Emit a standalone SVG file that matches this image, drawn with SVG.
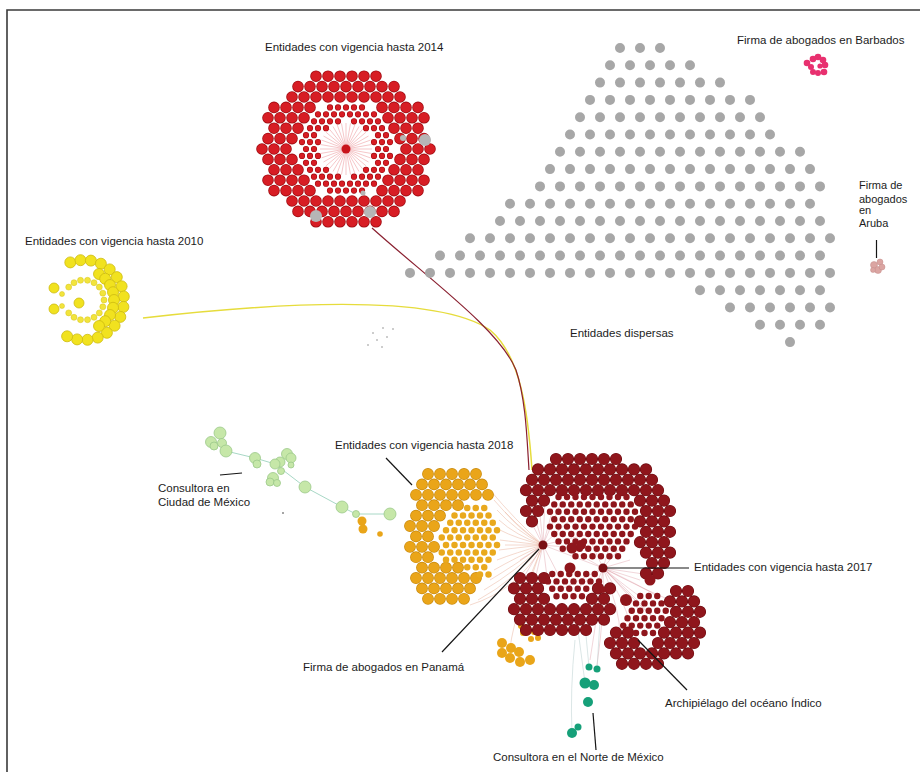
<svg xmlns="http://www.w3.org/2000/svg" xmlns:xlink="http://www.w3.org/1999/xlink" width="920" height="772" viewBox="0 0 920 772">
<style>
.lbl{font-family:"Liberation Sans",Arial,sans-serif;font-size:11.5px;fill:#1c1c1c}
.ld{stroke:#151515;stroke-width:1.2;fill:none}
.row{fill:none;stroke-linecap:round}
.r14d{stroke:#a10c12;stroke-width:11.6;stroke-dasharray:0 12}
.r14l{stroke:#d71d24;stroke-width:10;stroke-dasharray:0 12}
.r14sd{stroke:#a10c12;stroke-width:6.2;stroke-dasharray:0 8}
.r14sl{stroke:#d71d24;stroke-width:5;stroke-dasharray:0 8}
.gy{stroke:#a7a7a7;stroke-width:10;stroke-dasharray:0 20}
.m17d{stroke:#6e0d12;stroke-width:12.2;stroke-dasharray:0 12}
.m17l{stroke:#8f161c;stroke-width:11;stroke-dasharray:0 12}
.m17s{stroke:#8f161c;stroke-width:6.4;stroke-dasharray:0 8.5}
.o18d{stroke:#c98a0c;stroke-width:11.8;stroke-dasharray:0 12}
.o18l{stroke:#eaa519;stroke-width:10.4;stroke-dasharray:0 12}
.o18s{stroke:#e9a91d;stroke-width:6.5;stroke-dasharray:0 8.5}
.yb{fill:#f1e21f;stroke:#cdbb10;stroke-width:.8}
.ys{fill:#f2e43c;stroke:#d6c51a;stroke-width:.5}
.gr{fill:#c6e7a8;stroke:#9cc98a;stroke-width:.8}
.tl{fill:#16a079}
.pk{fill:#e8306f}
.ar{fill:#dba5a2;stroke:#c48c8a;stroke-width:.5}
.gd{fill:#b6b6b6}
.fanO{stroke:#eab49e;stroke-width:.6;fill:none;opacity:.85}
.fanM{stroke:#c75a6a;stroke-width:.5;fill:none;opacity:.5}
</style>
<defs>
<path id="r14b" d="M316,76.2h60.5M298,86.6h96.5M292,97h108.5M274,107.4h36.5M382,107.4h36.5M268,117.8h36.5M388,117.8h36.5M274,128.2h24.5M394,128.2h24.5M268,138.6h24.5M400,138.6h24.5M262,149h24.5M406,149h24.5M268,159.4h24.5M400,159.4h24.5M274,169.8h24.5M394,169.8h24.5M268,180.2h36.5M388,180.2h36.5M274,190.6h36.5M382,190.6h36.5M292,201h108.5M298,211.4h96.5M316,221.8h60.5"/>
<path id="r14s" d="M330,107.4h32.5M318,114.35h56.5M314,121.28h24.5M354,121.28h24.5M310,128.21h16.5M366,128.21h16.5M306,135.14h8.5M378,135.14h8.5M302,142.07h16.5M374,142.07h16.5M306,149h8.5M378,149h8.5M302,155.93h16.5M374,155.93h16.5M306,162.86h8.5M378,162.86h8.5M310,169.79h16.5M366,169.79h16.5M314,176.72h24.5M354,176.72h24.5M318,183.65h56.5M330,190.58h32.5"/>
<path id="m17b" d="M556,459h60.5M538,469.4h108.5M532,479.8h120.5M526,490.2h132.5M532,500.6h12.5M640,500.6h24.5M526,511h12.5M646,511h24.5M532,521.4h0.5M640,521.4h24.5M646,531.8h24.5M640,542.2h24.5M646,552.6h24.5M652,563h12.5M646,573.4h12.5M520,578h24.5M514,588.4h24.5M598,588.4h12.5M520,598.8h24.5M592,598.8h12.5M514,609.2h96.5M520,619.6h84.5M526,630h60.5M676,591h12.5M670,601.4h24.5M676,611.8h24.5M670,622.2h24.5M616,632.6h12.5M664,632.6h36.5M610,643h24.5M658,643h36.5M616,653.4h72.5M622,663.8h36.5"/>
<path id="o18b" d="M428,474h48.5M422,484.4h60.5M416,494.8h72.5M422,505.2h36.5M416,515.6h24.5M410,526h24.5M416,536.4h12.5M410,546.8h24.5M416,557.2h12.5M422,567.6h36.5M416,578h60.5M422,588.4h48.5M428,598.8h36.5"/>
</defs>
<rect width="920" height="772" fill="#ffffff"/>
<path d="M7,772V10H920" fill="none" stroke="#3a3a3a" stroke-width="1.6"/>

<g id="connectors">
<path d="M143,318C300,300 440,296 490,330C520,355 528,410 532,470" fill="none" stroke="#e6dc3c" stroke-width="1.5"/>
<path d="M372,228C430,280 500,330 516,370C526,400 527,440 529,470" fill="none" stroke="#8a2030" stroke-width="1.2"/>
<path d="M226,451L255,458L275,464L305,487L342,507L356,514L390,514" fill="none" stroke="#a8d8c6" stroke-width="1"/>
<path class="fanO" d="M543,545Q515,520 490,490M543,545Q515,525 494,500M543,545Q515,530 497,510M543,545Q515,535 499,520M543,545Q515,538 500,530M543,545Q515,542 500,540M543,545Q515,548 499,550M543,545Q515,553 497,560M543,545Q515,558 494,570M543,545Q515,565 490,580M543,545Q515,572 484,590M543,545Q515,580 478,600M543,545Q520,600 530,630M543,545Q515,610 510,648M543,545Q518,590 470,605M543,545Q520,530 505,512M543,545Q522,545 505,545"/>
<path class="fanM" d="M543,545L530,520M543,545L540,515M543,545L552,512M543,545L560,505M543,545L570,520M543,545L585,535M543,545L525,575M543,545L535,580M543,545L548,585M543,545L560,578M543,545L575,548M543,545L603,568M543,545L520,560M543,545L530,500M543,545L545,498"/>
<path class="fanM" d="M603,568Q630,590 645,600M603,568Q630,595 640,612M603,568Q625,600 630,625M603,568Q640,585 660,598M603,568Q645,590 670,600M603,568Q635,600 655,620M603,568Q620,610 620,635M603,568Q640,600 668,635M603,568L590,540M603,568L610,545M603,568L620,548M603,568L630,560M603,568L580,555M603,568L575,590M603,568L590,600M603,568Q598,610 590,660M603,568Q605,610 597,665M603,568L640,580M603,568L650,575M603,568L560,590"/>
<path d="M589,667L585,625M585,683L578,630M572,733Q570,690 575,640M597,669L600,620" fill="none" stroke="#b6cccc" stroke-width=".5"/>
</g>

<g id="cluster-2014">
<g transform="translate(346,149)"><path d="M0,0L26,0M0,0L25.6,4.5M0,0L24.4,8.9M0,0L22.5,13M0,0L19.9,16.7M0,0L16.7,19.9M0,0L13,22.5M0,0L8.9,24.4M0,0L4.5,25.6M0,0L0,26M0,0L-4.5,25.6M0,0L-8.9,24.4M0,0L-13,22.5M0,0L-16.7,19.9M0,0L-19.9,16.7M0,0L-22.5,13M0,0L-24.4,8.9M0,0L-25.6,4.5M0,0L-26,0M0,0L-25.6,-4.5M0,0L-24.4,-8.9M0,0L-22.5,-13M0,0L-19.9,-16.7M0,0L-16.7,-19.9M0,0L-13,-22.5M0,0L-8.9,-24.4M0,0L-4.5,-25.6M0,0L0,-26M0,0L4.5,-25.6M0,0L8.9,-24.4M0,0L13,-22.5M0,0L16.7,-19.9M0,0L19.9,-16.7M0,0L22.5,-13M0,0L24.4,-8.9M0,0L25.6,-4.5" stroke="#eb8e92" stroke-width=".5" fill="none"/></g>
<use href="#r14b" class="row r14d"/>
<use href="#r14b" class="row r14l"/>
<use href="#r14s" class="row r14sd"/>
<use href="#r14s" class="row r14sl"/>
<circle cx="346" cy="149" r="4.5" fill="#c8141b"/>
<circle class="gd" cx="425" cy="140" r="6"/><circle class="gd" cx="403" cy="138" r="3"/><circle class="gd" cx="370" cy="212" r="6"/><circle class="gd" cx="316" cy="216" r="6"/><circle class="gd" cx="363" cy="193" r="2.5"/>
<text class="lbl" x="265" y="51">Entidades con vigencia hasta 2014</text>
</g>

<g id="entidades-dispersas">
<path class="row gy" d="M620,48h40.5M610,65.3h80.5M600,82.6h120.5M590,99.9h160.5M580,117.2h180.5M570,134.5h200.5M560,151.8h240.5M550,169.1h260.5M540,186.4h280.5M510,203.7h300.5M500,221h320.5M470,238.3h360.5M440,255.6h380.5M410,272.9h420.5M700,290.2h120.5M730,307.5h100.5M760,324.8h60.5M790,342.1h0.5"/>
<g fill="#bdbdbd"><circle cx="383" cy="328" r="1"/><circle cx="393" cy="329" r="1"/><circle cx="373" cy="333" r="1"/><circle cx="387" cy="337" r="1"/><circle cx="377" cy="340" r="1"/><circle cx="368" cy="345" r="1"/><circle cx="382" cy="347" r="1"/></g>
<text class="lbl" x="570" y="337">Entidades dispersas</text>
</g>

<g id="firma-barbados">
<circle class="pk" cx="807" cy="63" r="3.3"/><circle class="pk" cx="813" cy="59" r="3.3"/><circle class="pk" cx="818" cy="57" r="3.3"/><circle class="pk" cx="823" cy="60" r="3.3"/><circle class="pk" cx="825" cy="65" r="3.3"/><circle class="pk" cx="824" cy="72" r="3.3"/><circle class="pk" cx="818" cy="73" r="3"/><circle class="pk" cx="820" cy="66" r="2.6"/><circle class="pk" cx="813" cy="72" r="3"/><circle class="pk" cx="811" cy="67" r="3"/>
<text class="lbl" x="737" y="44">Firma de abogados en Barbados</text>
</g>

<g id="firma-aruba">
<text class="lbl" style="font-size:11px" x="859" y="189">Firma de</text>
<text class="lbl" style="font-size:11px" x="859" y="203">abogados</text>
<text class="lbl" style="font-size:11px" x="859" y="214">en</text>
<text class="lbl" style="font-size:11px" x="859" y="227">Aruba</text>
<path class="ld" d="M876.5,240V258" stroke-width="1"/>
<circle class="ar" cx="874" cy="265" r="3.5"/><circle class="ar" cx="880" cy="262" r="3"/><circle class="ar" cx="878" cy="270" r="3.5"/><circle class="ar" cx="882" cy="267" r="3"/><circle class="ar" cx="873" cy="270" r="2.5"/>
</g>

<g id="cluster-2010">
<circle class="yb" cx="70.3" cy="262.4" r="5.5"/><circle class="yb" cx="80.5" cy="260.2" r="5.5"/><circle class="yb" cx="90.9" cy="260.6" r="5.5"/><circle class="yb" cx="100.9" cy="263.7" r="5.5"/><circle class="yb" cx="109.7" cy="269.4" r="5.5"/><circle class="yb" cx="116.8" cy="277.1" r="5.5"/><circle class="yb" cx="121.6" cy="286.3" r="5.5"/><circle class="yb" cx="123.8" cy="296.5" r="5.5"/><circle class="yb" cx="123.4" cy="306.9" r="5.5"/><circle class="yb" cx="120.3" cy="316.9" r="5.5"/><circle class="yb" cx="114.6" cy="325.7" r="5.5"/><circle class="yb" cx="106.9" cy="332.8" r="5.5"/><circle class="yb" cx="97.7" cy="337.6" r="5.5"/><circle class="yb" cx="87.5" cy="339.8" r="5.5"/><circle class="yb" cx="77.1" cy="339.4" r="5.5"/><circle class="yb" cx="67.1" cy="336.3" r="5.5"/>
<circle class="yb" cx="99" cy="274" r="5.5"/><circle class="yb" cx="105.2" cy="278.8" r="5.5"/><circle class="yb" cx="110" cy="285" r="5.5"/><circle class="yb" cx="113" cy="292.2" r="5.5"/><circle class="yb" cx="114" cy="300" r="5.5"/><circle class="yb" cx="113" cy="307.8" r="5.5"/><circle class="yb" cx="110" cy="315" r="5.5"/><circle class="yb" cx="105.2" cy="321.2" r="5.5"/><circle class="yb" cx="99" cy="326" r="5.5"/>
<circle class="yb" cx="54" cy="288" r="5"/><circle class="yb" cx="54" cy="309" r="5"/><circle class="yb" cx="79" cy="303" r="5"/>
<circle class="ys" cx="68.7" cy="287.1" r="3"/><circle class="ys" cx="74" cy="282.7" r="3"/><circle class="ys" cx="80.5" cy="280.3" r="3"/><circle class="ys" cx="87.5" cy="280.3" r="3"/><circle class="ys" cx="94" cy="282.7" r="3"/><circle class="ys" cx="99.3" cy="287.1" r="3"/><circle class="ys" cx="102.8" cy="293.2" r="3"/><circle class="ys" cx="104" cy="300" r="3"/><circle class="ys" cx="102.8" cy="306.8" r="3"/><circle class="ys" cx="99.3" cy="312.9" r="3"/><circle class="ys" cx="94" cy="317.3" r="3"/><circle class="ys" cx="87.5" cy="319.7" r="3"/><circle class="ys" cx="80.5" cy="319.7" r="3"/><circle class="ys" cx="74" cy="317.3" r="3"/><circle class="ys" cx="68.7" cy="312.9" r="3"/><circle class="ys" cx="62" cy="294" r="2.5"/><circle class="ys" cx="62" cy="306" r="2.5"/>
<text class="lbl" x="25" y="245">Entidades con vigencia hasta 2010</text>
</g>

<g id="consultora-cdmx">
<circle class="gr" cx="220" cy="433" r="6"/><circle class="gr" cx="211" cy="442" r="5.5"/><circle class="gr" cx="222" cy="443" r="4.5"/><circle class="gr" cx="214" cy="446" r="4"/><circle class="gr" cx="226" cy="451" r="6"/><circle class="gr" cx="255" cy="458" r="5.5"/><circle class="gr" cx="257" cy="464" r="4"/><circle class="gr" cx="287" cy="454" r="5.5"/><circle class="gr" cx="291" cy="458" r="5"/><circle class="gr" cx="280" cy="462" r="5"/><circle class="gr" cx="275" cy="464" r="5"/><circle class="gr" cx="281" cy="471" r="3.5"/><circle class="gr" cx="291" cy="465" r="3"/><circle class="gr" cx="273" cy="478" r="5.5"/><circle class="gr" cx="270" cy="482" r="4"/><circle class="gr" cx="277" cy="483" r="3.5"/><circle class="gr" cx="305" cy="487" r="6"/><circle class="gr" cx="342" cy="507" r="6"/><circle class="gr" cx="356" cy="514" r="3.5"/><circle class="gr" cx="390" cy="514" r="6"/>
<circle cx="283" cy="513" r=".8" fill="#333"/>
<path class="ld" d="M220,475L242,473"/>
<text class="lbl" x="158" y="492">Consultora en</text>
<text class="lbl" x="158" y="506">Ciudad de México</text>
</g>

<g id="cluster-2018">
<use href="#o18b" class="row o18d"/>
<use href="#o18b" class="row o18l"/>
<path class="row o18s" d="M467.25,508h17.5M454.5,515.4h34.5M450.25,522.8h43M446,530.2h51.5M441.75,537.6h51.5M446,545h51.5M441.75,552.4h51.5M446,559.8h43M467.25,567.2h17.5M480,574.6h9"/>
<g fill="#e9a519"><circle cx="362" cy="521" r="4.5"/><circle cx="363" cy="529" r="4.5"/><circle cx="380" cy="534" r="2.8"/>
<circle cx="521" cy="626" r="3"/><circle cx="528" cy="628" r="3"/><circle cx="534" cy="632" r="3"/><circle cx="523" cy="633" r="3"/><circle cx="538" cy="638" r="3"/><circle cx="531" cy="639" r="3"/>
<circle cx="502" cy="643" r="5"/><circle cx="511" cy="648" r="5"/><circle cx="502" cy="653" r="5"/><circle cx="519" cy="652" r="5"/><circle cx="510" cy="658" r="5"/><circle cx="520" cy="662" r="5"/><circle cx="530" cy="660" r="5"/></g>
<path class="ld" d="M386,458L412,485"/>
<text class="lbl" x="335" y="449">Entidades con vigencia hasta 2018</text>
</g>

<g id="cluster-2017">
<use href="#m17b" class="row m17d"/>
<use href="#m17b" class="row m17l"/>
<path class="row m17s" d="M558.5,497h68.5M554.25,504.4h77M550,511.8h85.5M554.25,519.2h77M550,526.6h85.5M554.25,534h77M558.5,541.4h68.5M562.75,548.8h60M575.5,556.2h43M552.25,574h43M548,581.4h51.5M552.25,588.8h34.5M556.5,596.2h26M640.25,596h17.5M636,603.4h26M631.75,610.8h34.5M627.5,618.2h34.5M623.25,625.6h34.5M636,633h17.5"/>
<g fill="#8f161c"><circle cx="572" cy="548" r="5.5"/><circle cx="581" cy="545" r="5"/><circle cx="570" cy="568" r="5.5"/><circle cx="626" cy="600" r="6"/><circle cx="650" cy="580" r="5.5"/><circle cx="603" cy="590" r="3"/></g>
<circle cx="603" cy="568" r="4.5" fill="#7a0f14"/>
<path class="ld" d="M607,568H689"/>
<text class="lbl" x="694" y="571">Entidades con vigencia hasta 2017</text>
</g>

<g id="firma-panama">
<circle cx="543" cy="545" r="4.5" fill="#7a0f14"/>
<path class="ld" d="M539,549L442,652"/>
<text class="lbl" x="303" y="671">Firma de abogados en Panamá</text>
</g>

<g id="archipielago">
<path class="ld" d="M638,640L687,690"/>
<text class="lbl" x="665" y="707">Archipiélago del océano Índico</text>
</g>

<g id="consultora-norte">
<circle class="tl" cx="589" cy="667" r="3.5"/><circle class="tl" cx="597" cy="669" r="3.5"/><circle class="tl" cx="585" cy="683" r="5.5"/><circle class="tl" cx="594" cy="685" r="5"/><circle class="tl" cx="588" cy="702" r="5"/><circle class="tl" cx="572" cy="733" r="5"/><circle class="tl" cx="578" cy="727" r="3.5"/>
<path class="ld" d="M593,713L596,750"/>
<text class="lbl" x="493" y="761">Consultora en el Norte de México</text>
</g>
</svg>
